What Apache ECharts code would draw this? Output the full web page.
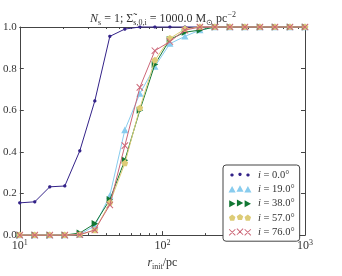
<!DOCTYPE html>
<html><head><meta charset="utf-8">
<script src="https://cdn.jsdelivr.net/npm/echarts@6/dist/echarts.min.js"></script>
<style>html,body{margin:0;padding:0;background:#fff}#c{width:342px;height:276px}</style>
</head><body><div id="c"></div>
<script>
// radii sampled (pc)
const rInit = [10, 12.743, 16.238, 20.691, 26.367, 33.598, 42.813, 54.556, 69.519, 88.587,
  112.884, 143.845, 183.298, 233.572, 297.635, 379.269, 483.293, 615.848, 784.760, 1000];
const seriesNames = ['i = 0.0°', 'i = 19.0°', 'i = 38.0°', 'i = 57.0°', 'i = 76.0°'];
const inc0  = [0.155,0.16,0.232,0.236,0.405,0.645,0.955,0.99,1,1,1,1,1,1,1,1,1,1,1,1];
const inc19 = [0,0,0,0,0.003,0.045,0.19,0.505,0.68,0.81,0.92,0.955,0.985,1,1,1,1,1,1,1];
const inc38 = [0,0,0,0,0.01,0.055,0.17,0.36,0.6,0.82,0.94,0.975,0.985,1,1,1,1,1,1,1];
const inc57 = [0,0,0,0,0.002,0.023,0.155,0.345,0.61,0.84,0.945,0.99,1,1,1,1,1,1,1,1];
const inc76 = [0,0,0,0,0.002,0.025,0.145,0.43,0.71,0.886,0.93,0.985,1,1,1,1,1,1,1,1];
const yTicks = [0.0, 0.2, 0.4, 0.6, 0.8, 1.0];
const xMinorTicks = [20,30,40,50,60,70,80,90,200,300,400,500,600,700,800,900];

const colors = ['#332288', '#88CCEE', '#117733', '#DDCC77', '#CC6677'];
const FONT = 'Liberation Serif';

function poly(cx, cy, r, n, rot) {
  let s = '';
  for (let k = 0; k < n; k++) {
    const a = rot + 2 * Math.PI * k / n;
    s += (k ? 'L' : 'M') + (cx + r * Math.cos(a)).toFixed(2) + ',' + (cy + r * Math.sin(a)).toFixed(2);
  }
  return s + 'Z';
}
function cross(cx, cy, h, t) {
  const d = t / Math.SQRT2;
  const p1 = [[cx-h-d, cy-h+d],[cx-h+d, cy-h-d],[cx+h+d, cy+h-d],[cx+h-d, cy+h+d]];
  const p2 = [[cx+h-d, cy-h-d],[cx+h+d, cy-h+d],[cx-h+d, cy+h+d],[cx-h-d, cy+h-d]];
  const f = p => 'M' + p.map(q => q[0].toFixed(2) + ',' + q[1].toFixed(2)).join('L') + 'Z';
  return f(p1) + f(p2);
}
const shapes = [
  (cx, cy) => poly(cx, cy, 1.7, 10, 0),
  (cx, cy) => 'M' + (cx-3.6) + ',' + (cy+3.2) + 'L' + cx + ',' + (cy-3.4) + 'L' + (cx+3.6) + ',' + (cy+3.2) + 'Z',
  (cx, cy) => 'M' + (cx-3.2) + ',' + (cy-3.6) + 'L' + (cx+3.4) + ',' + cy + 'L' + (cx-3.2) + ',' + (cy+3.6) + 'Z',
  (cx, cy) => poly(cx, cy, 3.5, 5, -Math.PI / 2),
  (cx, cy) => cross(cx, cy, 3.2, 0.5)
];
const bounds = 'M0,0L0,0ZM24,8L24,8Z';
function legendIcon(i) {
  return 'path://' + bounds + shapes[i](4, 4) + shapes[i](12, 3.3) + shapes[i](20, 4);
}
function markerPath(i) {
  return 'path://M-4,-4L-4,-4ZM4,4L4,4Z' + shapes[i](0, 0);
}
const symSizes = [8, 8, 8, 8, 8];
const dataSets = [inc0, inc19, inc38, inc57, inc76];

const chart = echarts.init(document.getElementById('c'), null, {renderer: 'canvas'});
const axisColor = '#444';
const grid = {left: 19, right: 37, top: 27, bottom: 29};

const series = dataSets.map((d, i) => ({
  name: seriesNames[i],
  type: 'line',
  data: d.map((v, k) => [rInit[k], v]),
  symbol: markerPath(i),
  symbolSize: symSizes[i],
  showAllSymbol: true,
  lineStyle: {color: colors[i], width: 1},
  itemStyle: {color: colors[i]},
  z: 2 + i,
  clip: false,
  animation: false
}));

const txt = (extra) => Object.assign({fontFamily: FONT, color: '#333', fontWeight: 'normal'}, extra);

chart.setOption({
  animation: false,
  textStyle: {fontFamily: FONT},
  title: {
    text: '{i|N}{sub|s}{n| = 1; }{n|Σ̃}{sub|s,0,i}{n| = 1000.0 M}{sub|⊙}{n| pc}{sup|−2}',
    left: 158, top: 6, textAlign: 'center',
    textStyle: {
      fontFamily: FONT, fontWeight: 'normal',
      rich: {
        n: txt({fontSize: 12, lineHeight: 16}),
        i: txt({fontSize: 12, fontStyle: 'italic', lineHeight: 16}),
        sub: txt({fontSize: 8, verticalAlign: 'bottom', lineHeight: 16, padding: [6, 0, 0, 0]}),
        sup: txt({fontSize: 8, verticalAlign: 'top', lineHeight: 16, padding: [0, 0, 6, 0]})
      }
    }
  },
  grid: grid,
  legend: {
    orient: 'vertical',
    left: 223, top: 165,
    padding: [4, 5, 3, 5],
    itemGap: 2.3,
    itemWidth: 24, itemHeight: 8,
    borderColor: '#444', borderWidth: 1, borderRadius: 3,
    backgroundColor: '#fff',
    data: seriesNames.map((n, i) => ({name: n, icon: legendIcon(i)})),
    formatter: n => '{it|i}{t|' + n.slice(1) + '}',
    textStyle: {
      fontFamily: FONT, color: '#333', padding: [0, 0, 0, 1], lineHeight: 12,
      rich: {
        it: txt({fontSize: 10.5, fontStyle: 'italic', lineHeight: 12}),
        t: txt({fontSize: 10.5, lineHeight: 12})
      }
    }
  },
  xAxis: [{
    type: 'log', logBase: 10, min: 10, max: 1000,
    name: '{i|r}{sub|init}{n|/pc}',
    nameLocation: 'middle', nameGap: 19,
    nameTextStyle: {
      rich: {
        n: txt({fontSize: 12, lineHeight: 16}),
        i: txt({fontSize: 12, fontStyle: 'italic', lineHeight: 16}),
        sub: txt({fontSize: 8, verticalAlign: 'bottom', lineHeight: 16, padding: [6, 0, 0, 0]})
      }
    },
    axisLine: {show: true, onZero: false, lineStyle: {color: axisColor, width: 1}},
    axisTick: {show: true, inside: true, length: 4, lineStyle: {color: axisColor}},
    minorTick: {show: false},
    splitLine: {show: false},
    axisLabel: {
      margin: 4,
      formatter: v => '{b|10}{s|' + Math.round(Math.log10(v)) + '}',
      rich: {
        b: txt({fontSize: 12, lineHeight: 14}),
        s: txt({fontSize: 8, verticalAlign: 'top', lineHeight: 14, padding: [0, 0, 5, 0]})
      }
    }
  }, {
    type: 'log', logBase: 10, min: 10, max: 1000, position: 'top',
    axisLine: {show: true, onZero: false, lineStyle: {color: axisColor, width: 1}},
    axisTick: {show: true, inside: true, length: 4, lineStyle: {color: axisColor}},
    axisLabel: {show: false}, splitLine: {show: false}
  }],
  yAxis: [{
    type: 'value', min: 0, max: 1, interval: 0.2,
    axisLine: {show: true, lineStyle: {color: axisColor, width: 1}},
    axisTick: {show: true, inside: true, length: 4, lineStyle: {color: axisColor}},
    splitLine: {show: false},
    axisLabel: {margin: 3, fontSize: 11, fontFamily: FONT, color: '#333',
      formatter: v => yTicks.reduce((b, t) => Math.abs(t - v) < Math.abs(b - v) ? t : b).toFixed(1)}
  }, {
    type: 'value', min: 0, max: 1, interval: 0.2, position: 'right',
    axisLine: {show: true, lineStyle: {color: axisColor, width: 1}},
    axisTick: {show: true, inside: true, length: 4, lineStyle: {color: axisColor}},
    splitLine: {show: false}, axisLabel: {show: false}
  }],
  series: series
});

// minor ticks on the log axes (at 2..9 x decade)
const y0 = chart.convertToPixel({yAxisIndex: 0}, 0);
const y1 = chart.convertToPixel({yAxisIndex: 0}, 1);
const minor = xMinorTicks.flatMap(v => {
  const x = Math.round(chart.convertToPixel({xAxisIndex: 0}, v)) + 0.5;
  return [
    {type: 'line', shape: {x1: x, y1: y0, x2: x, y2: y0 - 2}, style: {stroke: axisColor, lineWidth: 1}, silent: true},
    {type: 'line', shape: {x1: x, y1: y1, x2: x, y2: y1 + 2}, style: {stroke: axisColor, lineWidth: 1}, silent: true}
  ];
});
chart.setOption({graphic: minor});
</script>
</body></html>
